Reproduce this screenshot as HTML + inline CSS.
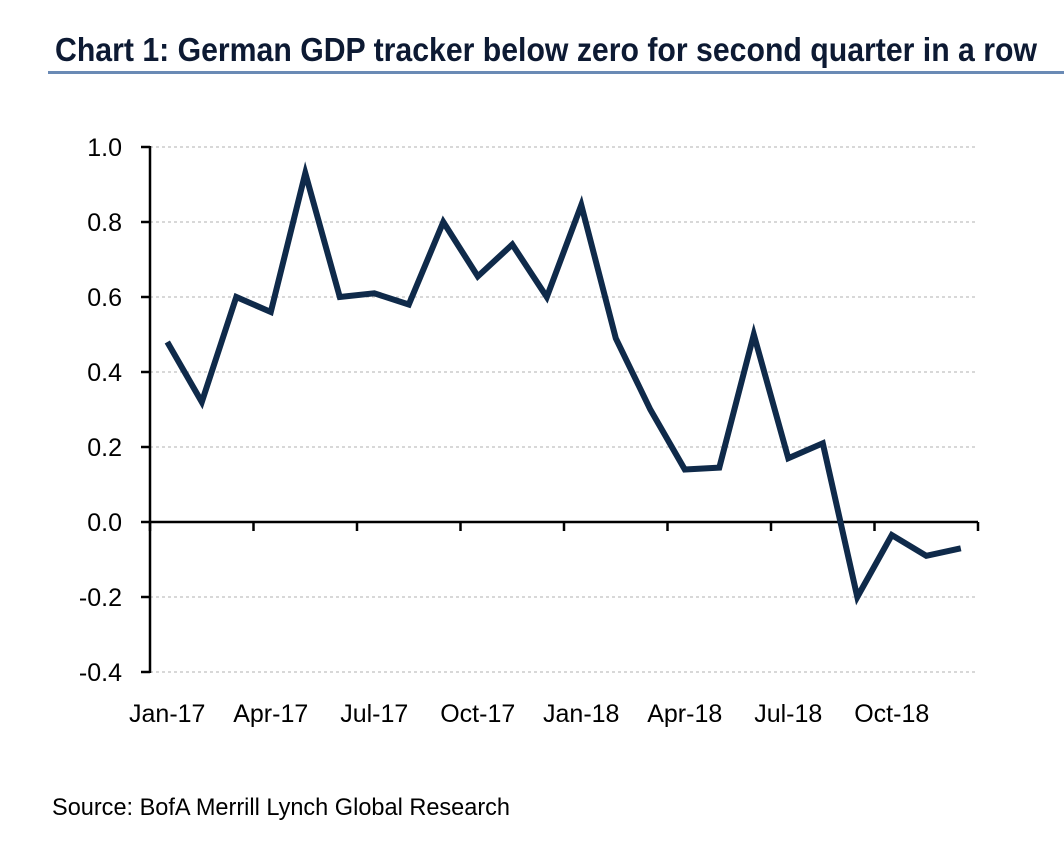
<!DOCTYPE html>
<html><head><meta charset="utf-8"><style>
body{margin:0;background:#fff;}
svg{display:block;font-family:"Liberation Sans",Arial,sans-serif;}
</style></head><body>
<svg width="1064" height="846" viewBox="0 0 1064 846">
<text x="55" y="61" font-size="33" font-weight="bold" fill="#0d1a33" textLength="982" lengthAdjust="spacingAndGlyphs">Chart 1: German GDP tracker below zero for second quarter in a row</text>
<rect x="48" y="71" width="1016" height="3" fill="#6a8ab5"/>
<g id="grid"></g>
<g id="axes"></g>
<path id="line" fill="none" stroke="#0f2a4a" stroke-width="6" stroke-linejoin="miter"/>
<text x="52" y="815" font-size="24" fill="#000" textLength="458" lengthAdjust="spacingAndGlyphs">Source: BofA Merrill Lynch Global Research</text>
</svg>
<script>
const categories=["Jan-17","Feb-17","Mar-17","Apr-17","May-17","Jun-17","Jul-17","Aug-17","Sep-17","Oct-17","Nov-17","Dec-17","Jan-18","Feb-18","Mar-18","Apr-18","May-18","Jun-18","Jul-18","Aug-18","Sep-18","Oct-18","Nov-18","Dec-18"];
const values=[0.48,0.32,0.60,0.56,0.93,0.60,0.61,0.58,0.80,0.655,0.74,0.60,0.845,0.49,0.30,0.14,0.145,0.50,0.17,0.21,-0.20,-0.035,-0.09,-0.07];
const yTicks=[1.0,0.8,0.6,0.4,0.2,0.0,-0.2,-0.4];
const xLabels=["Jan-17","Apr-17","Jul-17","Oct-17","Jan-18","Apr-18","Jul-18","Oct-18"];
const NS="http://www.w3.org/2000/svg";
const x0=150,step=34.5,yTop=147,yBot=672,vMax=1.0,vMin=-0.4;
const ys=v=>yTop+(vMax-v)/(vMax-vMin)*(yBot-yTop);
const xs=i=>x0+(i+0.5)*step;
const xEnd=x0+categories.length*step;
const grid=document.getElementById('grid'),axes=document.getElementById('axes');
function mk(tag,attrs,parent){const e=document.createElementNS(NS,tag);for(const k in attrs)e.setAttribute(k,attrs[k]);parent.appendChild(e);return e;}
yTicks.forEach(v=>{
  const y=ys(v);
  if(v!==0){const g=mk('line',{x1:x0,x2:xEnd,y1:y,y2:y,stroke:'#b0b0b0','stroke-width':1,'stroke-dasharray':'3,3'},grid);
  
  }
  const t=mk('line',{x1:x0-9,x2:x0,y1:y,y2:y,stroke:'#000','stroke-width':2.5},axes);
  
  
  const l=mk('text',{x:122,y:y+9,'font-size':25,'text-anchor':'end',fill:'#000'},axes);
  l.textContent=v.toFixed(1);
  
  
});
const ya=mk('line',{x1:x0,x2:x0,y1:yTop-1,y2:yBot+1,stroke:'#000','stroke-width':2.5},axes);


const xa=mk('line',{x1:x0,x2:xEnd,y1:ys(0),y2:ys(0),stroke:'#000','stroke-width':2.5},axes);


for(let q=0;q<=categories.length;q+=3){
  const x=x0+q*step;
  const t=mk('line',{x1:x,x2:x,y1:ys(0),y2:ys(0)+9,stroke:'#000','stroke-width':2.5},axes);
  
  
}
xLabels.forEach(lab=>{
  const i=categories.indexOf(lab);
  const l=mk('text',{x:xs(i),y:722,'font-size':25,'text-anchor':'middle',fill:'#000'},axes);
  l.textContent=lab;
  
  
});
document.getElementById('line').setAttribute('d',values.map((v,i)=>(i?'L':'M')+xs(i).toFixed(1)+','+ys(v).toFixed(1)).join(''));
</script>
</body></html>
